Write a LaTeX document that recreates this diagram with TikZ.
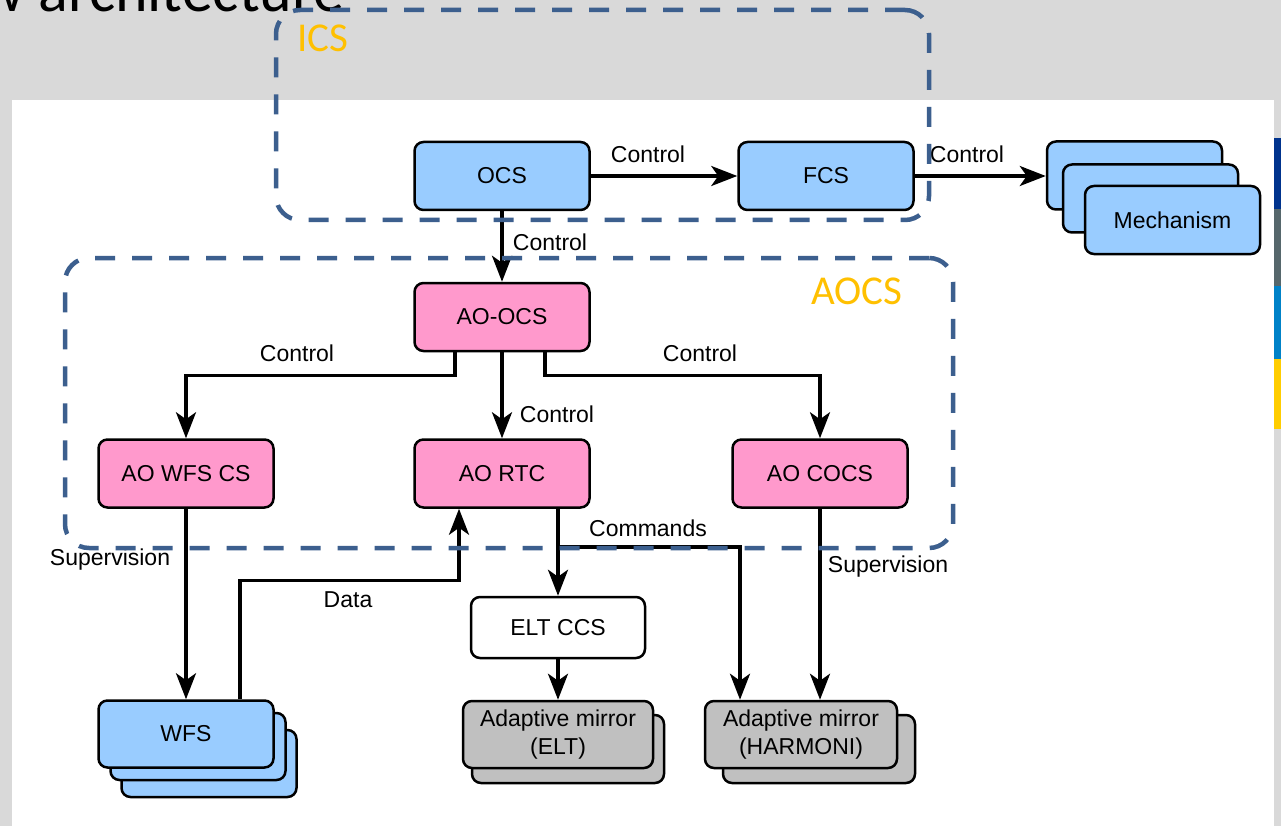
\documentclass[tikz,border=0pt]{standalone}
\usepackage{fontspec}
\setmainfont{Liberation Sans}
\newfontfamily\calib{Carlito}
\usetikzlibrary{arrows.meta,calc}
\definecolor{boxblue}{HTML}{99CCFF}
\definecolor{boxpink}{HTML}{FF99CC}
\definecolor{boxgrey}{HTML}{C0C0C0}
\definecolor{dashblue}{HTML}{3C5F8E}
\definecolor{gold}{HTML}{FFC000}
\definecolor{slidegrey}{HTML}{D9D9D9}
\definecolor{barA}{HTML}{00338D}
\definecolor{barB}{HTML}{56676C}
\definecolor{barC}{HTML}{0082C8}
\definecolor{barD}{HTML}{FFCD00}
\begin{document}
\begin{tikzpicture}[x=1pt,y=-1pt,
  box/.style={draw=black, line width=2.5pt, rounded corners=9pt, minimum width=175pt, minimum height=68pt, inner sep=0pt, font=\fontsize{23}{28}\selectfont, align=center},
  conn/.style={line width=3.5pt, -{Stealth[length=26pt,width=20pt,inset=7pt]}},
  lbl/.style={font=\fontsize{23}{26}\selectfont, inner sep=0pt},
  grp/.style={draw=dashblue, line width=4.5pt, dash pattern=on 20pt off 17pt, rounded corners=24pt, inner sep=0pt},
  grplbl/.style={font=\calib\fontsize{41}{44}\selectfont, text=gold, inner sep=0pt, anchor=base west}]
\useasboundingbox (0,0) rectangle (1281,826);
\clip (0,0) rectangle (1281,826);
% slide background
\fill[slidegrey] (0,0) rectangle (1281,826);
\fill[white] (12,100) rectangle (1274,826);
\fill[barA] (1274,138) rectangle (1281,209);
\fill[barB] (1274,209) rectangle (1281,286);
\fill[barC] (1274,286) rectangle (1281,359);
\fill[barD] (1274,359) rectangle (1281,429);
\node[font=\calib\fontsize{62}{66}\selectfont, anchor=base west, inner sep=0pt, text depth=0pt] (title) at (-20,12) {w architecture};

% top row
\node[box, fill=boxblue] (ocs) at (502,176) {OCS};
\node[box, fill=boxblue] (fcs) at (826,176) {FCS};
\node[box, fill=boxblue] (mechA) at (1134.5,175.5) {};
\node[box, fill=boxblue] (mechB) at (1150.5,198.5) {};
\node[box, fill=boxblue] (mechC) at (1172.5,220) {Mechanism};

% AOCS nodes
\node[box, fill=boxpink] (aoocs) at (502,317) {AO-OCS};
\node[box, fill=boxpink] (aowfs) at (186,473.5) {AO WFS CS};
\node[box, fill=boxpink] (aortc) at (502,473.5) {AO RTC};
\node[box, fill=boxpink] (aococs) at (820,473.5) {AO COCS};

% lower nodes
\node[box, fill=white, minimum width=174pt, minimum height=61pt] (eltccs) at (558,627.5) {ELT CCS};
\node[box, fill=boxblue, minimum height=67pt] (wfsC) at (209,763.5) {};
\node[box, fill=boxblue, minimum height=67pt] (wfsB) at (198,746.5) {};
\node[box, fill=boxblue, minimum height=67pt] (wfsA) at (186,734) {WFS};
\node[box, fill=boxgrey, minimum width=192pt] (ameltB) at (568,749) {};
\node[box, fill=boxgrey, minimum width=190pt, minimum height=67pt] (ameltA) at (558,734.5) {Adaptive mirror\\(ELT)};
\node[box, fill=boxgrey, minimum width=192pt] (amhB) at (819,749) {};
\node[box, fill=boxgrey, minimum width=192pt, minimum height=67pt] (amhA) at (801,734.5) {Adaptive mirror\\(HARMONI)};

% connectors
\draw[conn] (ocs) -- (fcs);
\node[lbl] (lc1) at (648,154) {Control};
\draw[conn] (fcs.east) -- (fcs.east -| mechA.west);
\node[lbl] (lc2) at (967,154) {Control};
\draw[conn] (ocs) -- (aoocs);
\node[lbl] (lc3) at (550,242) {Control};
\draw[conn] ($(aoocs.south)+(-47,0)$) -- ++(0,23) -| (aowfs.north);
\node[lbl] (lc4) at (297,353) {Control};
\draw[conn] ($(aoocs.south)+(43,0)$) -- ++(0,23) -| (aococs.north);
\node[lbl] (lc5) at (700,353) {Control};
\draw[conn] (aoocs) -- (aortc);
\node[lbl] (lc6) at (557,414) {Control};
\draw[conn] (aowfs) -- (wfsA);
\node[lbl] (ls1) at (110,560) {Supervision};
\draw[conn] ($(wfsA.north)+(54,0)$) -- ++(0,-119) -| ($(aortc.south)+(-43,0)$);
\node[lbl] (ld) at (348,600) {Data};
\draw[conn] (eltccs.north |- aortc.south) -- (eltccs.north);
\coordinate (cmd) at ($(eltccs.north |- aortc.south)+(0,38)$);
\draw[conn] (cmd) -| ($(amhA.north)+(-61,0)$);
\node[lbl] (lcmd) at (648,528) {Commands};
\draw[conn] (eltccs) -- (ameltA);
\draw[conn] (aococs.south) -- (aococs.south |- amhA.north);
\node[lbl] (ls2) at (888,567) {Supervision};

% groups
\node[grp, minimum width=653pt, minimum height=210pt] (ics) at (602.5,115) {};
\node[grplbl] (icslbl) at (297,52) {ICS};
\node[grp, minimum width=888pt, minimum height=290pt] (aocs) at (509,403) {};
\node[grplbl] (aocslbl) at (811,304) {AOCS};
\end{tikzpicture}
\end{document}
